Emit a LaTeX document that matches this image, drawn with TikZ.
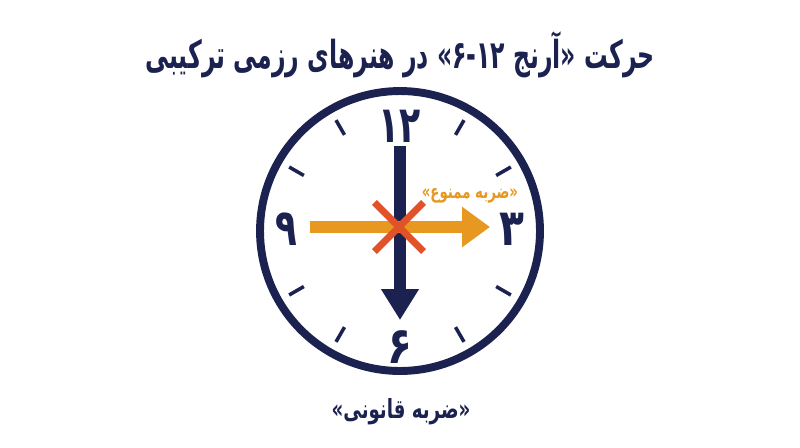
\documentclass[tikz,border=0pt]{standalone}
\usepackage{graphicx}
\usepackage{fontspec}
\newfontfamily\farsi[Script=Arabic]{DejaVu Sans}
\TeXXeTstate=1
\usetikzlibrary{arrows.meta,shapes.misc,calc}
\definecolor{navy}{RGB}{27,34,80}
\definecolor{amber}{RGB}{231,152,32}
\definecolor{foulred}{RGB}{226,82,40}
\newcommand{\narrow}[2]{\scalebox{#1}[1]{#2}}
\tikzstyle{numeral} = [inner sep=0pt, text height=21pt, text depth=0pt, text=navy, font=\farsi\bfseries\fontsize{29}{31}\selectfont]
\tikzstyle{tick} = [navy, line width=2pt]
\tikzstyle{hand} = [navy, line width=6.8pt, -{Triangle[length=17.6pt,width=20.4pt]}]
\tikzstyle{strike} = [amber, line width=6.5pt, -{Triangle[length=15.9pt,width=22pt]}]

\begin{document}
\begin{tikzpicture}[x=0.02cm,y=-0.02cm]
\useasboundingbox[fill=white] (0,0) rectangle (800,447);

\node (title) at (400,55) [text=navy, font=\farsi\bfseries\fontsize{22}{24}\selectfont] {\narrow{0.61}{\beginR حرکت «آرنج ۱۲\mbox{-}۶» در هنرهای رزمی ترکیبی\endR}};

% clock face
\node (face) at (400,231) [circle, draw=navy, line width=4.5pt, minimum size=5.6cm, inner sep=0pt] {};
\foreach \a in {30,60,120,150,210,240,300,330}
    \draw [tick] ($(face.center)+(\a:111)$) -- ($(face.center)+(\a:128)$);

\node (n12) at (400,124) [numeral] {\narrow{0.68}{۱۲}};
\node (n3) at (512,227) [numeral] {\narrow{0.8}{۳}};
\node (n6) at (400,345) [numeral] {\narrow{0.8}{۶}};
\node (n9) at (286,227) [numeral] {\narrow{0.7}{۹}};

\draw [hand, shorten <=0.44cm, shorten >=0.5cm] (n12.center) -- (n6.center);
\draw [strike, shorten <=0.48cm, shorten >=0.44cm] (n9.center) -- (n3.center);
\node (foul) at (399,227) [cross out, draw=foulred, line width=4pt, minimum size=0.84cm, inner sep=0pt] {};

\node (banned) at (470,196) [text=amber, font=\farsi\bfseries\fontsize{11}{13}\selectfont] {\narrow{0.69}{\beginR «ضربه ممنوع»\endR}};
\node (legal) at (401,412) [text=navy, font=\farsi\bfseries\fontsize{15}{17}\selectfont] {\narrow{0.69}{\beginR «ضربه قانونی»\endR}};

\end{tikzpicture}
\end{document}
